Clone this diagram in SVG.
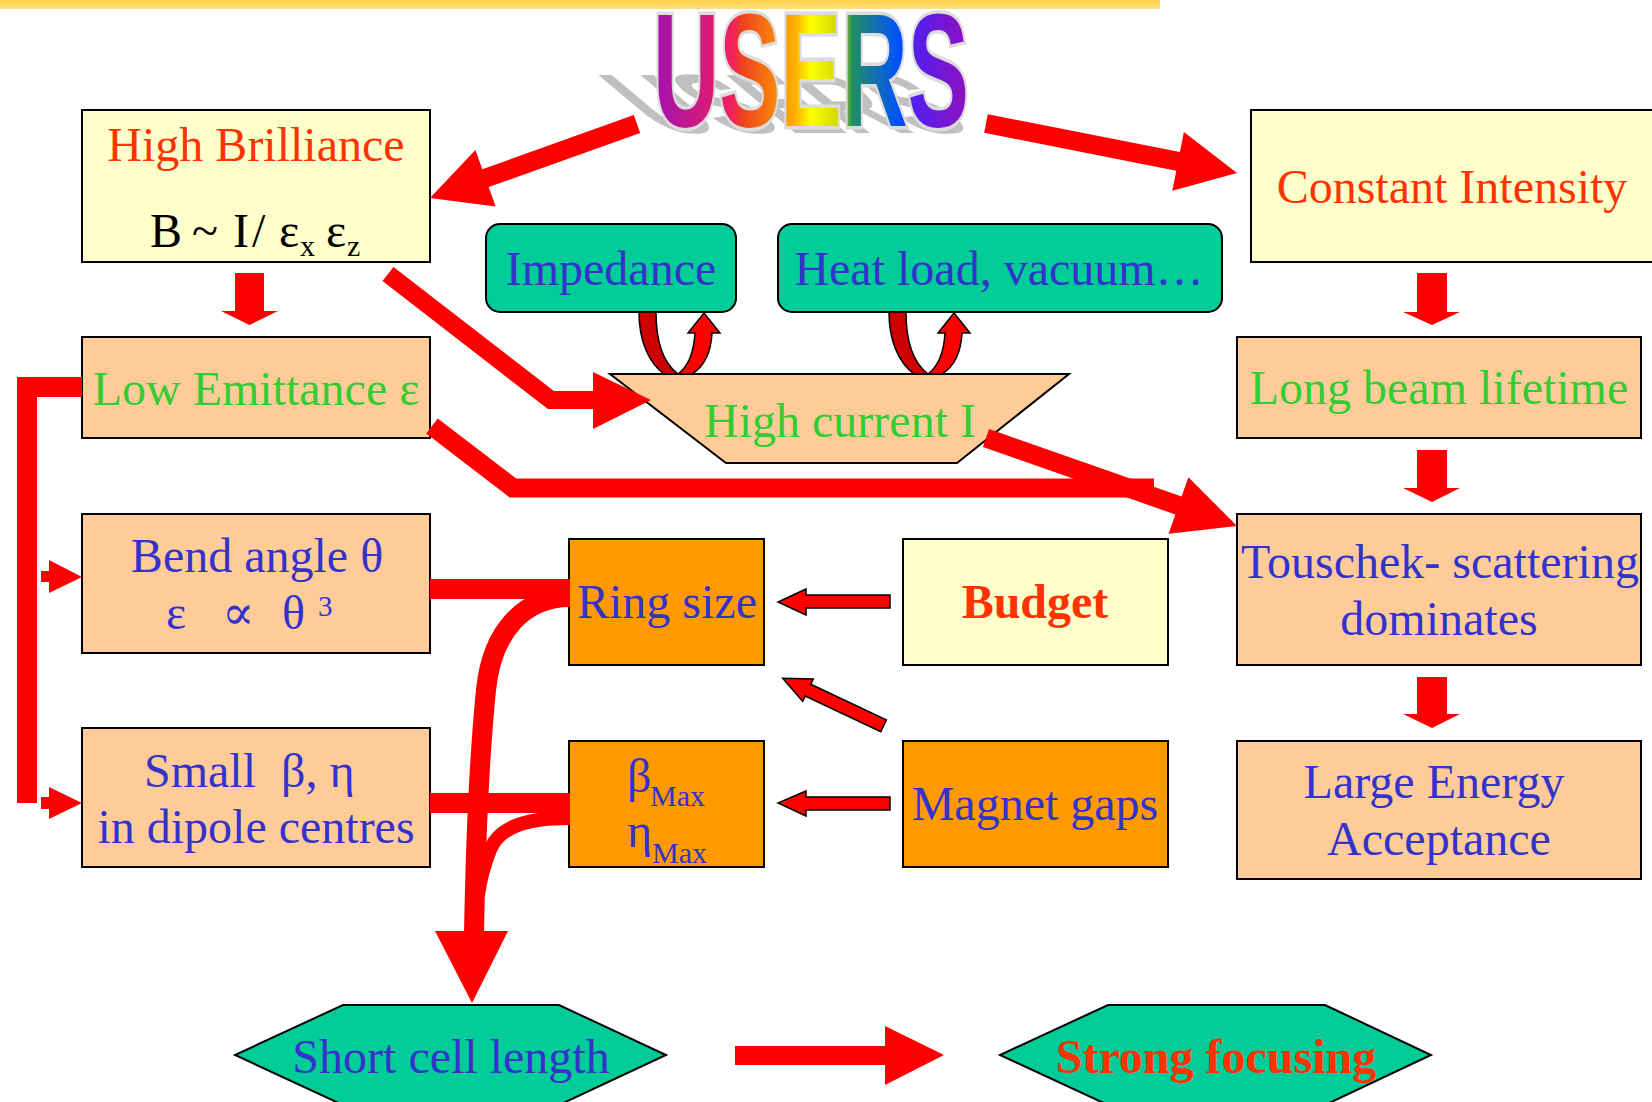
<svg xmlns="http://www.w3.org/2000/svg" width="1652" height="1102" viewBox="0 0 1652 1102">
<defs>
<linearGradient id="rainbow" x1="0" y1="0" x2="1" y2="0">
<stop offset="0" stop-color="#a010b0"/>
<stop offset="0.25" stop-color="#f02060"/>
<stop offset="0.28" stop-color="#f04020"/>
<stop offset="0.45" stop-color="#ffb000"/>
<stop offset="0.5" stop-color="#ffff00"/>
<stop offset="0.6" stop-color="#c8d000"/>
<stop offset="0.63" stop-color="#209060"/>
<stop offset="0.78" stop-color="#0050ff"/>
<stop offset="0.82" stop-color="#5020f0"/>
<stop offset="1" stop-color="#9010c0"/>
</linearGradient>
<linearGradient id="band" x1="0" y1="0" x2="0" y2="1">
<stop offset="0" stop-color="#ffd04a"/>
<stop offset="1" stop-color="#ffe07a"/>
</linearGradient>
<g id="loop">
<path class="dark" d="M639,312 L656,312 C656,340 662,362 678,374 L664,374 C648,362 639,340 639,312 Z"/>
<path class="bright" d="M678,374 C690,365 694,350 695,333 L688,333 L704,313 L720,333 L712,333 C711,352 705,366 692,374 Z"/>
</g>
</defs>
<style>
.box{stroke:#000;stroke-width:2}
.y{fill:#ffffcc}
.p{fill:#ffcc99}
.o{fill:#ff9900}
.g{fill:#00cc99}
text{font-family:"Liberation Serif","Times New Roman","DejaVu Serif",serif;font-size:48px}
.red{fill:#ff3300}
.grn{fill:#33cc33}
.blu{fill:#3333cc}
.blk{fill:#000}
.c{text-anchor:middle}
.b{font-weight:bold}
.sub{font-size:30px}
.arr{fill:#ff0000}
.oarr{fill:#ff0000;stroke:#000;stroke-width:1.5}
.line{fill:none;stroke:#ff0000}
.dark{fill:#cc0000;stroke:#000;stroke-width:1.5}
.bright{fill:#ff0000;stroke:#000;stroke-width:1.5}
.title{font-family:"Liberation Sans",Arial,sans-serif;font-weight:bold;font-size:162px}
</style>

<rect x="0" y="0" width="1160" height="9" fill="url(#band)"/>

<g id="users">
<text class="title" transform="translate(662,133) skewX(50) scale(0.566,0.52)" fill="#c0c0c0">USERS</text>
<text class="title" transform="translate(653,126) scale(0.566,1)" fill="url(#rainbow)" stroke="#dcdcdc" stroke-width="7" paint-order="stroke">USERS</text>
</g>

<g id="high-brilliance">
<rect class="box y" x="82" y="110" width="348" height="152"/>
<text class="red c" x="256" y="161">High Brilliance</text>
<text class="blk" y="247"><tspan x="150">B</tspan><tspan x="192">~</tspan><tspan x="233">I</tspan><tspan x="252">/</tspan><tspan x="279">ε</tspan><tspan class="sub" x="300" dy="9">x</tspan><tspan x="326" dy="-9">ε</tspan><tspan class="sub" x="347" dy="9">z</tspan></text>
</g>

<g id="constant-intensity">
<rect class="box y" x="1251" y="110" width="420" height="152"/>
<text class="red c" x="1452" y="203">Constant Intensity</text>
</g>

<g id="low-emittance">
<rect class="box p" x="82" y="337" width="348" height="101"/>
<text class="grn c" x="256" y="405">Low Emittance ε</text>
</g>

<g id="long-beam-lifetime">
<rect class="box p" x="1237" y="337" width="404" height="101"/>
<text class="grn c" x="1439" y="404">Long beam lifetime</text>
</g>

<g id="impedance">
<rect class="box g" x="486" y="224" width="250" height="88" rx="14"/>
<text class="blu c" x="611" y="285">Impedance</text>
</g>

<g id="heat-load">
<rect class="box g" x="778" y="224" width="444" height="88" rx="14"/>
<text class="blu c" x="999" y="285">Heat load, vacuum…</text>
</g>

<g id="high-current">
<polygon class="box p" points="610,374 1069,374 957,463 726,463"/>
<text class="grn c" x="840" y="437">High current I</text>
</g>

<g id="bend-angle">
<rect class="box p" x="82" y="514" width="348" height="139"/>
<text class="blu c" x="257" y="572">Bend angle θ</text>
<text class="blu" y="629"><tspan x="166">ε</tspan><tspan x="222">∝</tspan><tspan x="282">θ</tspan><tspan x="318" y="616" font-size="29">3</tspan></text>
</g>

<g id="small-beta">
<rect class="box p" x="82" y="728" width="348" height="139"/>
<text class="blu" y="787"><tspan x="144">Small</tspan><tspan x="281">β, η</tspan></text>
<text class="blu c" x="256" y="843">in dipole centres</text>
</g>

<g id="ring-size">
<rect class="box o" x="569" y="539" width="195" height="126"/>
<text class="blu c" x="667" y="618">Ring size</text>
</g>

<g id="budget">
<rect class="box y" x="903" y="539" width="265" height="126"/>
<text class="red c b" x="1035" y="618">Budget</text>
</g>

<g id="beta-eta-max">
<rect class="box o" x="569" y="741" width="195" height="126"/>
<text class="blu" x="627" y="792">β<tspan class="sub" x="650" y="806">Max</tspan></text>
<text class="blu" x="627" y="847">η<tspan class="sub" x="652" y="863">Max</tspan></text>
</g>

<g id="magnet-gaps">
<rect class="box o" x="903" y="741" width="265" height="126"/>
<text class="blu c" x="1035" y="820">Magnet gaps</text>
</g>

<g id="touschek">
<rect class="box p" x="1237" y="514" width="404" height="151"/>
<text class="blu c" x="1440" y="578" font-size="47">Touschek- scattering</text>
<text class="blu c" x="1439" y="635">dominates</text>
</g>

<g id="energy-acceptance">
<rect class="box p" x="1237" y="741" width="404" height="138"/>
<text class="blu c" x="1434" y="798">Large Energy</text>
<text class="blu c" x="1439" y="855">Acceptance</text>
</g>

<g id="short-cell">
<polygon class="box g" points="343,1005 559,1005 666,1055 559,1105 343,1105 235,1055"/>
<text class="blu c" x="451" y="1073">Short cell length</text>
</g>

<g id="strong-focusing">
<polygon class="box g" points="1108,1005 1325,1005 1431,1055 1325,1105 1108,1105 1000,1055"/>
<text class="red c b" x="1216" y="1073">Strong focusing</text>
</g>

<g id="connectors">
<polygon class="arr" points="633.8,115.1 482.3,169.3 475.4,150 430,198 495.6,206.4 488.7,187.1 640.2,132.9"/>
<polygon class="arr" points="987.8,114.2 1179.9,152.1 1183.9,132 1237,173 1172.3,190.8 1176.3,170.7 984.2,132.8"/>
<path class="line" stroke-width="18" d="M388,274 L551,400 L600,400"/>
<polygon class="arr" points="593,372 651,400 593,429"/>
<path class="line" stroke-width="19" d="M432,426 L513,488 L1154,488"/>
<polygon class="arr" points="989.1,429 1181.6,496.5 1188.4,477.2 1237,526 1168.6,533.8 1175.4,514.5 982.9,447"/>
<polygon class="arr" points="235,273 264,273 264,311 278,311 249.5,325 221,311 235,311"/>
<polygon class="arr" points="1417,273 1447,273 1447,312 1460,312 1432,325 1403,312 1417,312"/>
<polygon class="arr" points="1417,450 1447,450 1447,488 1460,488 1432,502 1403,488 1417,488"/>
<polygon class="arr" points="1417,677 1447,677 1447,714 1460,714 1432,728 1403,714 1417,714"/>
<path class="line" stroke-width="20" d="M82,387 H27 V803"/>
<polygon class="arr" points="41,571 49,571 49,560 82,577 49,593 49,582 41,582"/>
<polygon class="arr" points="41,797 49,797 49,787 82,803 49,819 49,809 41,809"/>
<rect class="arr" x="430" y="579" width="140" height="20"/>
<rect class="arr" x="430" y="793" width="140" height="20"/>
<path class="line" stroke-width="20" d="M570,597 C525,597 492,630 486,690 C481,740 476,820 474,935"/>
<path class="line" stroke-width="14" d="M570,818 C530,818 500,825 490,850 C484,865 480,880 478,895"/>
<polygon class="arr" points="435,931 508,931 472,1003"/>
<polygon class="oarr" points="890,595 806,595 806,589 778,602 806,615 806,608 890,608"/>
<polygon class="oarr" points="890,797 806,797 806,791 778,803 806,816 806,810 890,810"/>
<polygon class="oarr" points="886.4,719.9 810.8,684.3 813.3,678.9 782.7,678.3 802.7,701.5 805.2,696.1 880.8,731.7"/>
<polygon class="arr" points="735,1046 885,1046 885,1026 944,1055 885,1085 885,1065 735,1065"/>
<use href="#loop"/>
<use href="#loop" transform="translate(250,0)"/>
</g>
</svg>
